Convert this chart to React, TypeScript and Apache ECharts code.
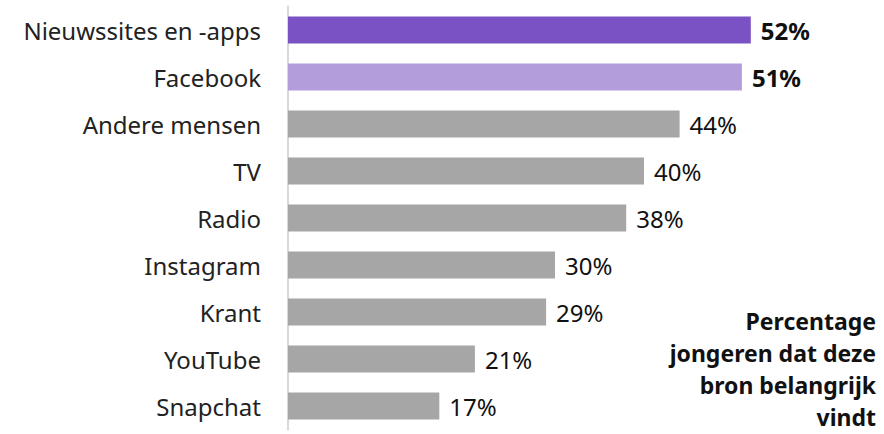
import React, { useEffect, useRef } from "react";
import * as echarts from "echarts";

const categories = [
  "Nieuwssites en -apps",
  "Facebook",
  "Andere mensen",
  "TV",
  "Radio",
  "Instagram",
  "Krant",
  "YouTube",
  "Snapchat",
];
const values = [52, 51, 44, 40, 38, 30, 29, 21, 17];
const barColors = ["#7b52c3", "#b39ddb", "#a6a6a6", "#a6a6a6", "#a6a6a6", "#a6a6a6", "#a6a6a6", "#a6a6a6", "#a6a6a6"];
const boldLabels = [true, true, false, false, false, false, false, false, false];
const noteLines = ["Percentage", "jongeren dat deze", "bron belangrijk", "vindt"];

const FONT = "'Noto Sans', sans-serif";

export default function App() {
  const ref = useRef<HTMLDivElement>(null);
  useEffect(() => {
    if (!ref.current) return;
    const chart = echarts.init(ref.current, undefined, { renderer: "svg" });
    chart.setOption({
      animation: false,
      grid: { left: 288, width: 534, top: 6.5, height: 423, containLabel: false },
      xAxis: {
        type: "value",
        min: 0,
        max: 60,
        show: false,
      },
      yAxis: {
        type: "category",
        inverse: true,
        data: categories,
        axisLine: { show: true, lineStyle: { color: "#d9d9d9", width: 2 } },
        axisTick: { show: false },
        axisLabel: {
          color: "#222",
          fontSize: 24,
          fontFamily: FONT,
          margin: 27,
        },
      },
      series: [
        {
          type: "bar",
          barWidth: 27,
          data: values.map((v, i) => ({
            value: v,
            itemStyle: { color: barColors[i] },
            label: {
              show: true,
              position: "right",
              distance: 10,
              formatter: "{c}%",
              color: "#111",
              fontSize: 24,
              fontWeight: boldLabels[i] ? "bold" : "normal",
              fontFamily: FONT,
            },
          })),
        },
      ],
      graphic: [
        {
          type: "text",
          x: 876,
          y: 305,
          style: {
            text: noteLines.join("\n"),
            align: "right",
            verticalAlign: "top",
            fill: "#111",
            fontSize: 23,
            fontWeight: "bold",
            fontFamily: FONT,
            lineHeight: 32,
          },
        },
      ],
    });
    return () => chart.dispose();
  }, []);
  return <div ref={ref} style={{ width: 884, height: 434, position: "absolute", left: 0, top: 0 }} />;
}
